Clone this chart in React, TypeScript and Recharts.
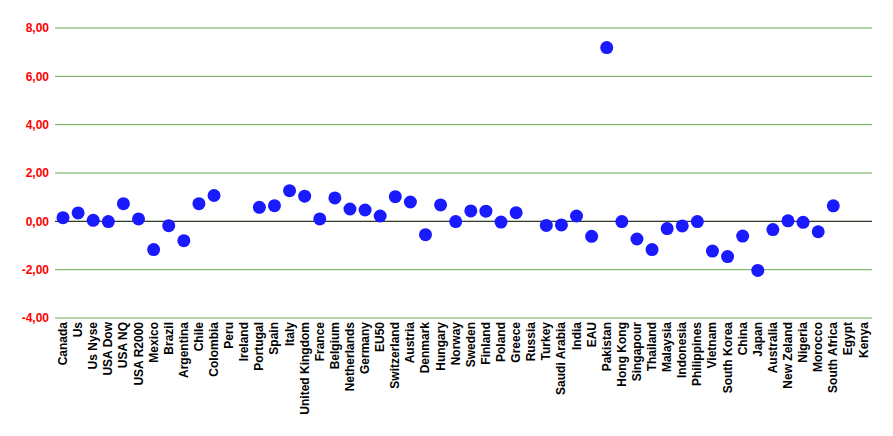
import React from "react";
import {
    LineChart,
    Line,
    XAxis,
    YAxis,
    CartesianGrid,
    ReferenceLine,
} from "recharts";

const countries = [
    "Canada", "Us", "Us Nyse", "USA Dow", "USA NQ", "USA R2000", "Mexico",
    "Brazil", "Argentina", "Chile", "Colombia", "Peru", "Ireland", "Portugal",
    "Spain", "Italy", "United Kingdom", "France", "Belgium", "Netherlands",
    "Germany", "EU50", "Switzerland", "Austria", "Denmark", "Hungary",
    "Norway", "Sweden", "Finland", "Poland", "Greece", "Russia", "Turkey",
    "Saudi Arabia", "India", "EAU", "Pakistan", "Hong Kong", "Singapour",
    "Thailand", "Malaysia", "Indonesia", "Philippines", "Vietnam",
    "South Korea", "China", "Japan", "Australia", "New Zeland", "Nigeria",
    "Morocco", "South Africa", "Egypt", "Kenya",
];

// null = sem valor
const values: (number | null)[] = [
    0.15, 0.35, 0.04, -0.01, 0.73, 0.1, -1.17,
    -0.18, -0.8, 0.73, 1.07, null, null, 0.58,
    0.65, 1.27, 1.04, 0.1, 0.97, 0.51,
    0.47, 0.22, 1.02, 0.8, -0.55, 0.68,
    -0.01, 0.43, 0.42, -0.03, 0.36, null, -0.17,
    -0.15, 0.22, -0.62, 7.19, -0.01, -0.73,
    -1.17, -0.3, -0.19, -0.01, -1.23,
    -1.46, -0.61, -2.03, -0.34, 0.02, -0.04,
    -0.43, 0.64, null, null,
];

const yTicks = [-4, -2, 0, 2, 4, 6, 8];

const data = countries.map((name, i) => ({ name, value: values[i] }));

const FONT = "'Liberation Sans', Arial, sans-serif";

const CountryTick = ({ x, y, payload }: any) => (
    <text
        x={x}
        y={y}
        transform={`rotate(-90 ${x} ${y})`}
        textAnchor="end"
        dominantBaseline="central"
        fill="#000"
        fontSize={12}
        fontWeight="bold"
        fontFamily={FONT}
    >
        {payload.value}
    </text>
);

const App = () => {
    return (
        <div style={{ width: 877, height: 420 }}>
            <LineChart
                width={877}
                height={420}
                data={data}
                margin={{ top: 20, right: 13, bottom: 0, left: 0 }}
            >
                <CartesianGrid
                    vertical={false}
                    stroke="#6aa84f"
                    strokeWidth={1}
                />
                <XAxis
                    dataKey="name"
                    interval={0}
                    axisLine={false}
                    tickLine={false}
                    tickSize={2}
                    tickMargin={2}
                    height={110}
                    padding={{ left: 8, right: 8.5 }}
                    tick={<CountryTick />}
                />
                <YAxis
                    domain={[-4, 8]}
                    ticks={yTicks}
                    width={47}
                    axisLine={false}
                    tickLine={false}
                    tickSize={4}
                    tickMargin={2}
                    tickFormatter={(v: number) => v.toFixed(2).replace(".", ",")}
                    tick={{
                        fill: "#ff0000",
                        fontSize: 12,
                        fontWeight: "bold",
                        fontFamily: FONT,
                    }}
                />
                <ReferenceLine y={0} stroke="#222" strokeWidth={1} />
                <Line
                    dataKey="value"
                    stroke="none"
                    isAnimationActive={false}
                    dot={{ r: 6.5, fill: "#1a1aff", stroke: "none" }}
                    activeDot={false}
                />
            </LineChart>
        </div>
    );
};

export default App;
